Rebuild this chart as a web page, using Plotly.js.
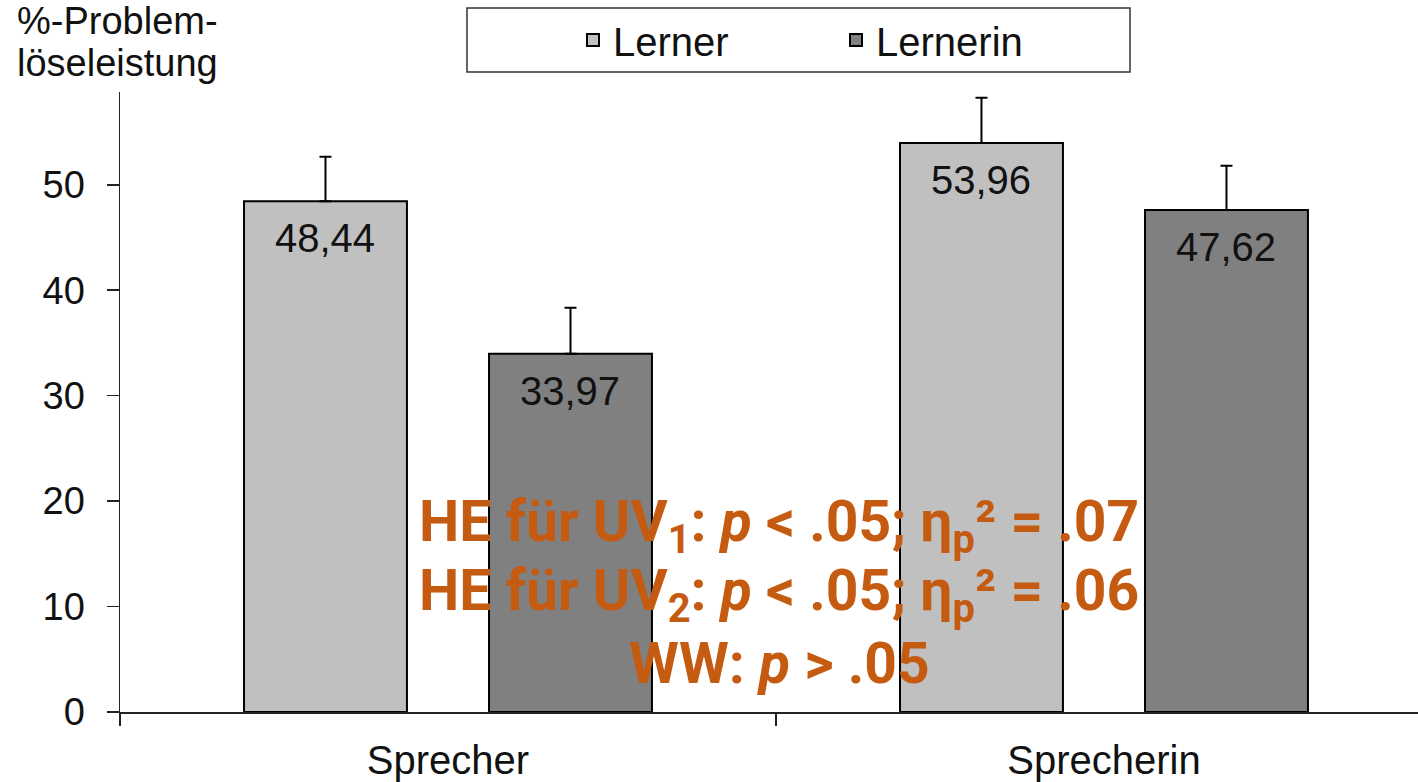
<!DOCTYPE html>
<html>
<head>
<meta charset="utf-8">
<script src="https://cdn.plot.ly/plotly-3.0.1.min.js"></script>
<style>html,body{margin:0;padding:0;background:#fff;}#chart{width:1418px;height:782px;}</style>
</head>
<body>
<div id="chart"></div>
<script>
const categories = ["Sprecher", "Sprecherin"];
const seriesNames = ["Lerner", "Lernerin"];
const lernerValues = [48.44, 53.96];
const lernerinValues = [33.97, 47.62];
const lernerErrors = [4.22, 4.29];
const lernerinErrors = [4.36, 4.18];
const yTickValues = [0, 10, 20, 30, 40, 50];
const yTitleLines = ["%-Problem-", "löseleistung"];
const statLines = [
  "HE für UV<sub>1</sub>: <i>p</i> &lt; .05; η<sub>p</sub>² = .07",
  "HE für UV<sub>2</sub>: <i>p</i> &lt; .05; η<sub>p</sub>² = .06",
  "WW: <i>p</i> &gt; .05"
];

const FONT = "Liberation Sans, Arial, sans-serif";
const colors = ["#C0C0C0", "#808080"];
const valuesBySeries = [lernerValues, lernerinValues];
const errorsBySeries = [lernerErrors, lernerinErrors];

const traces = seriesNames.map((name, i) => ({
  type: "bar",
  name: name,
  x: categories,
  y: valuesBySeries[i],
  marker: {color: colors[i], line: {color: "#000", width: 2}},
  error_y: {type: "data", symmetric: false, array: errorsBySeries[i],
            arrayminus: errorsBySeries[i].map(() => 0),
            color: "#000", thickness: 2, width: 6},
  hoverinfo: "skip"
}));

const fmt = v => v.toFixed(2).replace(".", ",");
const annotations = [];
const slotShift = 122.5;
valuesBySeries.forEach((vals, i) => {
  vals.forEach((v, j) => {
    annotations.push({
      xref: "x", yref: "y", x: categories[j], y: v,
      xshift: (i === 0 ? -1 : 1) * slotShift, yshift: -13,
      yanchor: "top", xanchor: "center", showarrow: false,
      text: fmt(v), font: {family: FONT, size: 40, color: "#111"}
    });
  });
});
// y axis title lines
yTitleLines.forEach((t, k) => {
  annotations.push({
    xref: "paper", yref: "paper", x: -0.081, y: 1.0 + (k === 0 ? 0.115 : 0.047),
    xanchor: "left", yanchor: "middle", showarrow: false, text: t,
    font: {family: FONT, size: 38, color: "#111"}
  });
});
const statY = [0.3016, 0.1903, 0.0790];
statLines.forEach((t, k) => {
  annotations.push({
    xref: "paper", yref: "paper", x: 0.508, y: statY[k],
    xanchor: "center", yanchor: "middle", showarrow: false, align: "center",
    text: t,
    font: {family: "Roboto, sans-serif", size: 57, color: "#C55A11", weight: "bold"}
  });
});

const layout = {
  width: 1418, height: 782,
  margin: {l: 120, r: 0, t: 92, b: 70},
  paper_bgcolor: "#fff", plot_bgcolor: "#fff",
  barmode: "group", bargap: 0.253, bargroupgap: 0.335,
  separators: ",.",
  font: {family: FONT, size: 38, color: "#111"},
  showlegend: true,
  legend: {
    orientation: "h", x: 0.349, xanchor: "left", y: 1.084, yanchor: "middle",
    font: {family: FONT, size: 40, color: "#111"},
    bgcolor: "rgba(0,0,0,0)", borderwidth: 0,
    entrywidth: 218, entrywidthmode: "pixels", traceorder: "normal"
  },
  shapes: [{
    type: "rect", xref: "paper", yref: "paper",
    x0: (467 - 120) / 1298, x1: (1130 - 120) / 1298,
    y0: (712 - 72) / 620, y1: (712 - 8) / 620,
    line: {color: "#333", width: 1.5}, fillcolor: "rgba(0,0,0,0)", layer: "below"
  }],
  xaxis: {
    type: "category", range: [-0.5, 1.4787],
    showline: true, linecolor: "#222", linewidth: 1.5,
    ticks: "outside", tickson: "boundaries", ticklen: 12, tickcolor: "#222", tickwidth: 1.5,
    showgrid: false, zeroline: false,
    tickfont: {family: FONT, size: 40, color: "#111"},
    ticklabelstandoff: 12, fixedrange: true
  },
  yaxis: {
    range: [0, 58.8], tickvals: yTickValues, ticktext: yTickValues.map(String),
    showline: true, linecolor: "#222", linewidth: 1.5,
    ticks: "outside", ticklen: 12, tickcolor: "#222", tickwidth: 1.5,
    showgrid: false, zeroline: false,
    tickfont: {family: FONT, size: 38, color: "#111"},
    ticklabelstandoff: 14, fixedrange: true
  },
  annotations: annotations
};

Plotly.newPlot("chart", traces, layout, {displayModeBar: false, staticPlot: true});
</script>
</body>
</html>
